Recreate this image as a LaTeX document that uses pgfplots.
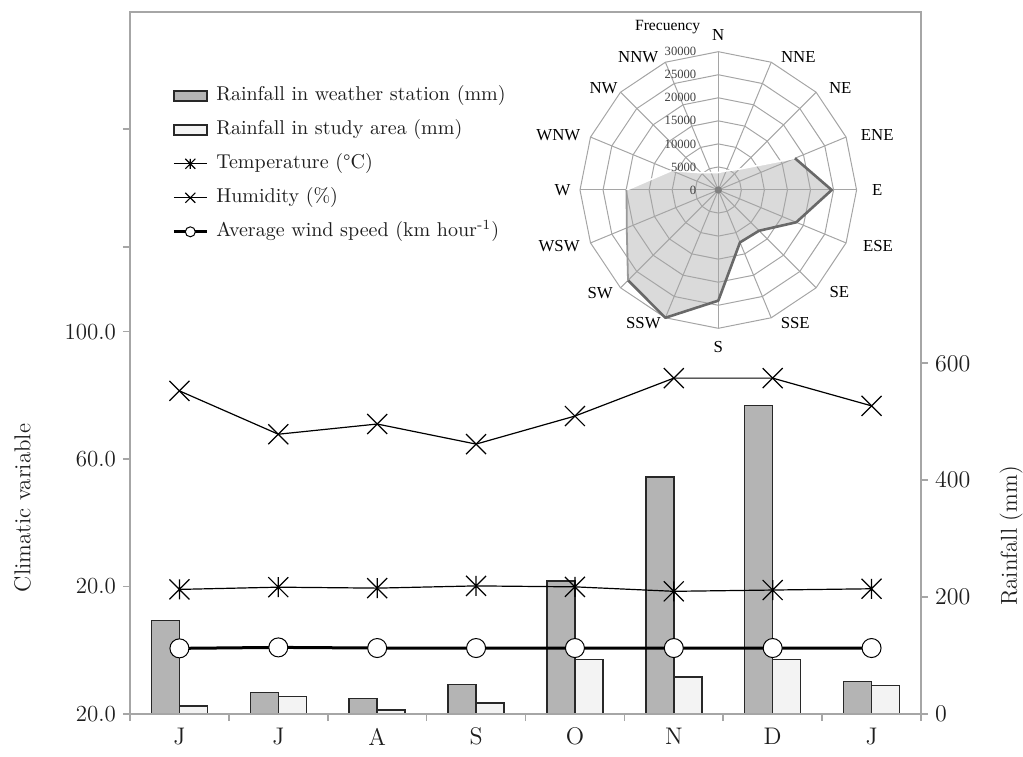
\documentclass[border=0pt]{standalone}
\usepackage{fontspec}
\usepackage{pgfplots}
\usepackage{pgfplotstable}
\pgfplotsset{compat=1.18}
\usepgfplotslibrary{polar}
\newfontfamily\rosefont{Liberation Serif}
\definecolor{axgray}{RGB}{166,166,166}
\definecolor{bardark}{RGB}{180,180,180}
\definecolor{barlight}{RGB}{243,243,243}
\definecolor{baredge}{RGB}{40,40,40}
\definecolor{rosefill}{RGB}{218,218,218}
\definecolor{rosegrid}{RGB}{165,165,165}
\definecolor{roseshadow}{RGB}{105,105,105}
\definecolor{txt}{RGB}{30,30,30}

\pgfdeclareplotmark{xcross}{%
  \pgfpathmoveto{\pgfqpoint{-\pgfplotmarksize}{-\pgfplotmarksize}}%
  \pgfpathlineto{\pgfqpoint{\pgfplotmarksize}{\pgfplotmarksize}}%
  \pgfpathmoveto{\pgfqpoint{-\pgfplotmarksize}{\pgfplotmarksize}}%
  \pgfpathlineto{\pgfqpoint{\pgfplotmarksize}{-\pgfplotmarksize}}%
  \pgfusepathqstroke}
\pgfdeclareplotmark{xstar}{%
  \pgfpathmoveto{\pgfqpoint{-\pgfplotmarksize}{-\pgfplotmarksize}}%
  \pgfpathlineto{\pgfqpoint{\pgfplotmarksize}{\pgfplotmarksize}}%
  \pgfpathmoveto{\pgfqpoint{-\pgfplotmarksize}{\pgfplotmarksize}}%
  \pgfpathlineto{\pgfqpoint{\pgfplotmarksize}{-\pgfplotmarksize}}%
  \pgfpathmoveto{\pgfqpoint{0pt}{-\pgfplotmarksize}}%
  \pgfpathlineto{\pgfqpoint{0pt}{\pgfplotmarksize}}%
  \pgfusepathqstroke}

% month index, rainfall station, rainfall study area, temperature, humidity, wind speed
\pgfplotstableread{
m rs ra temp hum wind
0 159.6 14 19.1 81.4 0.6
1 36.8 30 19.8 67.8 0.9
2 26.2 7 19.5 71.0 0.7
3 50.8 19 20.2 64.7 0.7
4 227.5 93.5 19.9 73.5 0.7
5 405.5 63 18.5 85.4 0.7
6 528 93.5 18.9 85.4 0.7
7 55.3 49 19.3 76.7 0.7
}\climate

\begin{document}
\begin{tikzpicture}[x=1pt,y=1pt]
\useasboundingbox (0,0) rectangle (511.5,378);

% ---------- rainfall (right axis, bars)
\begin{axis}[
  scale only axis, width=395.5pt, height=351pt,
  at={(65pt,21pt)}, anchor=south west,
  xmin=-0.5, xmax=7.5, ymin=0, ymax=1201,
  axis x line=none, axis y line*=right,
  y axis line style={axgray, line width=0.8pt},
  ytick={0,200,400,600},
  tick align=outside, major tick length=3.5pt,
  ytick style={axgray, line width=0.8pt},
  yticklabel style={font=\fontsize{11.5}{13}\selectfont, text=txt},
  ybar=0pt, bar width=14pt,
]
\addplot[fill=bardark, draw=baredge, line width=0.7pt] table[x=m,y=rs]{\climate};
\addplot[fill=barlight, draw=baredge, line width=0.7pt] table[x=m,y=ra]{\climate};
\end{axis}

% ---------- climatic variables (left axis, lines)
\begin{axis}[
  scale only axis, width=395.5pt, height=351pt,
  at={(65pt,21pt)}, anchor=south west,
  xmin=-0.5, xmax=7.5, ymin=-20, ymax=200.3,
  axis line style={axgray, line width=0.8pt},
  xtick={0,...,7}, xticklabels={J,J,A,S,O,N,D,J},
  minor xtick={-0.5,0.5,...,7.5},
  ytick={-20,20,60,100,126.6,163.6},
  yticklabels={20.0,20.0,60.0,100.0,{},{}},
  xtick pos=bottom, ytick pos=left,
  tick align=outside,
  major tick length=3.5pt, minor tick length=3.5pt,
  major x tick style={draw=none},
  minor x tick style={axgray, line width=0.8pt},
  ytick style={axgray, line width=0.8pt},
  yticklabel style={font=\fontsize{11.5}{13}\selectfont, text=txt},
  xticklabel style={font=\fontsize{12}{14}\selectfont, text=txt},
  clip=false,
  legend image code/.code={%
    \draw[mark repeat=2,mark phase=2,#1] plot coordinates {(0pt,0pt)(8.25pt,0pt)(16.5pt,0pt)};},
  legend image post style={mark size=2.5pt},
  legend cell align=left,
  legend style={draw=none, fill=none, at={(0.053,0.894)}, anchor=north west,
    font=\fontsize{10}{12}\selectfont, text=txt,
    row sep=8pt, inner sep=0pt,
    nodes={inner sep=0pt, text height=7pt, text depth=2pt},
    /tikz/every odd column/.append style={column sep=4pt}},
]
\addlegendimage{legend image code/.code={\draw[fill=bardark, draw=baredge, line width=0.7pt] (0pt,-2.5pt) rectangle (16.5pt,2.5pt);}}
\addlegendentry{Rainfall in weather station (mm)}
\addlegendimage{legend image code/.code={\draw[fill=barlight, draw=baredge, line width=0.7pt] (0pt,-2.5pt) rectangle (16.5pt,2.5pt);}}
\addlegendentry{Rainfall in study area (mm)}
\addplot[black, line width=0.6pt, mark=xstar, mark size=5pt] table[x=m,y=temp]{\climate};
\addlegendentry{Temperature (\textdegree C)}
\addplot[black, line width=0.6pt, mark=xcross, mark size=5pt] table[x=m,y=hum]{\climate};
\addlegendentry{Humidity (\%)}
\addplot[black, line width=1.5pt, mark=*, mark size=4.75pt,
  mark options={fill=white, draw=black, line width=0.5pt}] table[x=m,y=wind]{\climate};
\addlegendentry{Average wind speed (km hour\textsuperscript{-1})}
\end{axis}

% axis titles
\node[rotate=90, font=\fontsize{11.5}{13}\selectfont, text=txt] at (11.25,124) {Climatic variable};
\node[rotate=90, font=\fontsize{11.5}{13}\selectfont, text=txt] at (505.5,110) {Rainfall (mm)};

% ---------- wind rose
\begin{polaraxis}[
  scale only axis, width=138.3pt, height=138.3pt,
  at={(359.15pt,283pt)}, anchor=center,
  xmin=0, xmax=360, ymin=0, ymax=30000,
  hide axis, clip=false,
]
% frequency polygon
\addplot[fill=rosefill, draw=none] coordinates {
(0,24600)(22.5,18000)(45,6400)(67.5,4500)(90,3800)(112.5,4100)(135,5300)(157.5,11000)
(180,19900)(202.5,21500)(225,27700)(247.5,30000)(270,24000)(292.5,12300)(315,12500)(337.5,18300)(360,24600)};
% grid rings
\addplot[rosegrid, line width=0.5pt] coordinates {(0,5000)(22.5,5000)(45,5000)(67.5,5000)(90,5000)(112.5,5000)(135,5000)(157.5,5000)(180,5000)(202.5,5000)(225,5000)(247.5,5000)(270,5000)(292.5,5000)(315,5000)(337.5,5000)(360,5000)};
\addplot[rosegrid, line width=0.5pt] coordinates {(0,10000)(22.5,10000)(45,10000)(67.5,10000)(90,10000)(112.5,10000)(135,10000)(157.5,10000)(180,10000)(202.5,10000)(225,10000)(247.5,10000)(270,10000)(292.5,10000)(315,10000)(337.5,10000)(360,10000)};
\addplot[rosegrid, line width=0.5pt] coordinates {(0,15000)(22.5,15000)(45,15000)(67.5,15000)(90,15000)(112.5,15000)(135,15000)(157.5,15000)(180,15000)(202.5,15000)(225,15000)(247.5,15000)(270,15000)(292.5,15000)(315,15000)(337.5,15000)(360,15000)};
\addplot[rosegrid, line width=0.5pt] coordinates {(0,20000)(22.5,20000)(45,20000)(67.5,20000)(90,20000)(112.5,20000)(135,20000)(157.5,20000)(180,20000)(202.5,20000)(225,20000)(247.5,20000)(270,20000)(292.5,20000)(315,20000)(337.5,20000)(360,20000)};
\addplot[rosegrid, line width=0.5pt] coordinates {(0,25000)(22.5,25000)(45,25000)(67.5,25000)(90,25000)(112.5,25000)(135,25000)(157.5,25000)(180,25000)(202.5,25000)(225,25000)(247.5,25000)(270,25000)(292.5,25000)(315,25000)(337.5,25000)(360,25000)};
\addplot[rosegrid, line width=0.5pt] coordinates {(0,30000)(22.5,30000)(45,30000)(67.5,30000)(90,30000)(112.5,30000)(135,30000)(157.5,30000)(180,30000)(202.5,30000)(225,30000)(247.5,30000)(270,30000)(292.5,30000)(315,30000)(337.5,30000)(360,30000)};
% spokes
\addplot[rosegrid, line width=0.5pt] coordinates {(0,30000)(180,30000)};
\addplot[rosegrid, line width=0.5pt] coordinates {(22.5,30000)(202.5,30000)};
\addplot[rosegrid, line width=0.5pt] coordinates {(45,30000)(225,30000)};
\addplot[rosegrid, line width=0.5pt] coordinates {(67.5,30000)(247.5,30000)};
\addplot[rosegrid, line width=0.5pt] coordinates {(90,30000)(270,30000)};
\addplot[rosegrid, line width=0.5pt] coordinates {(112.5,30000)(292.5,30000)};
\addplot[rosegrid, line width=0.5pt] coordinates {(135,30000)(315,30000)};
\addplot[rosegrid, line width=0.5pt] coordinates {(157.5,30000)(337.5,30000)};
% outline: shadow on lower side, highlight on upper side
\addplot[white, line width=0.8pt] coordinates {
(180,19900)(157.5,11000)(135,5300)(112.5,4100)(90,3800)(67.5,4500)(45,6400)(22.5,18000)};
\addplot[roseshadow, line width=1.3pt, line join=round] coordinates {
(22.5,18000)(0,24600)(-22.5,18300)(-45,12500)(-67.5,12300)(-90,24000)(-112.5,30000)(-135,27700)};
\addplot[gray!80, line width=0.9pt, line join=round] coordinates {
(-135,27700)(-157.5,21500)(-180,19900)};
\addplot[only marks, mark=*, mark size=1.6pt, color=gray] coordinates {(0,0)};
% radial values
\begin{scope}[font=\rosefont\fontsize{6.3}{7}\selectfont, text=black!75]
\node[anchor=east, xshift=-7.5pt] at (axis cs:90,0) {0};
\node[anchor=east, xshift=-7.5pt] at (axis cs:90,5000) {5000};
\node[anchor=east, xshift=-7.5pt] at (axis cs:90,10000) {10000};
\node[anchor=east, xshift=-7.5pt] at (axis cs:90,15000) {15000};
\node[anchor=east, xshift=-7.5pt] at (axis cs:90,20000) {20000};
\node[anchor=east, xshift=-7.5pt] at (axis cs:90,25000) {25000};
\node[anchor=east, xshift=-7.5pt] at (axis cs:90,30000) {30000};
\end{scope}
% direction labels
\begin{scope}[font=\rosefont\fontsize{8.4}{9}\selectfont, text=black]
\node at (axis cs:90,33600) {N};
\node at (axis cs:59,33700) {NNE};
\node at (axis cs:39.9,34500) {NE};
\node at (axis cs:19.1,36500) {ENE};
\node at (axis cs:0,34500) {E};
\node at (axis cs:-19.3,36700) {ESE};
\node at (axis cs:-40.2,34400) {SE};
\node at (axis cs:-59.9,33300) {SSE};
\node at (axis cs:-90,34000) {S};
\node at (axis cs:240.6,33100) {SSW};
\node at (axis cs:221.1,34000) {SW};
\node at (axis cs:199.4,36600) {WSW};
\node at (axis cs:180,33800) {W};
\node at (axis cs:161,36700) {WNW};
\node at (axis cs:138.4,33300) {NW};
\node at (axis cs:121,33700) {NNW};
\node[font=\rosefont\fontsize{7.8}{9}\selectfont] at (axis cs:107.3,37000) {Frecuency};
\end{scope}
\end{polaraxis}
\end{tikzpicture}
\end{document}
